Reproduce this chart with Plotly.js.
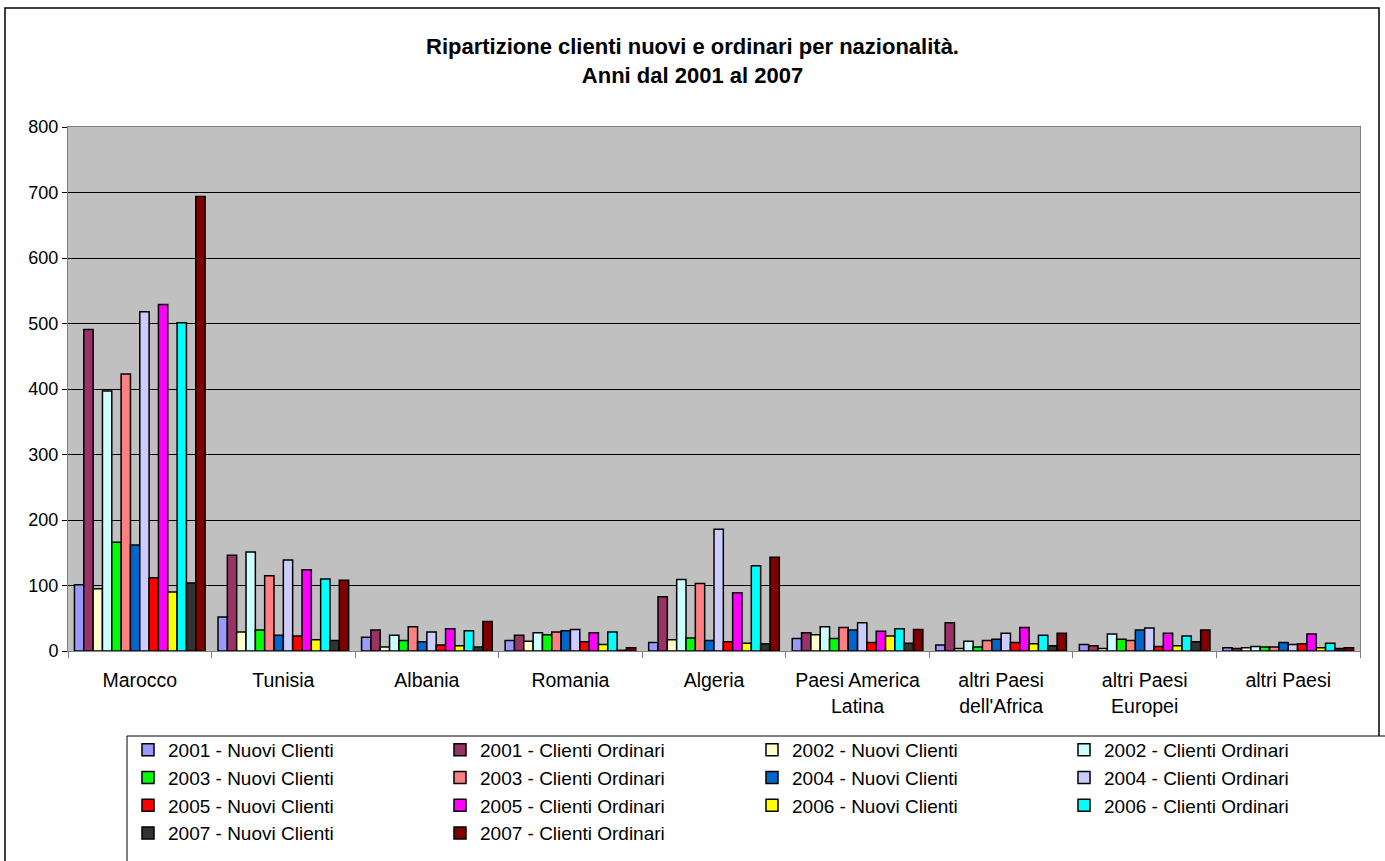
<!DOCTYPE html>
<html>
<head>
<meta charset="utf-8">
<script src="https://cdn.plot.ly/plotly-3.0.1.min.js"></script>
<style>html,body{margin:0;padding:0;background:#fff;}#chart{width:1385px;height:861px;}</style>
</head>
<body>
<div id="chart"></div>
<script>
var categories = ['Marocco','Tunisia','Albania','Romania','Algeria','Paesi America<br>Latina',"altri Paesi<br>dell'Africa",'altri Paesi<br>Europei','altri Paesi'];
var yTickVals = [0,100,200,300,400,500,600,700,800];

var seriesNames = [
  '2001 - Nuovi Clienti','2001 - Clienti Ordinari',
  '2002 - Nuovi Clienti','2002 - Clienti Ordinari',
  '2003 - Nuovi Clienti','2003 - Clienti Ordinari',
  '2004 - Nuovi Clienti','2004 - Clienti Ordinari',
  '2005 - Nuovi Clienti','2005 - Clienti Ordinari',
  '2006 - Nuovi Clienti','2006 - Clienti Ordinari',
  '2007 - Nuovi Clienti','2007 - Clienti Ordinari'
];
var seriesColors = ['#9999FF','#993366','#FFFFCC','#CCFFFF','#00FF00','#FF8080','#0066CC','#CCCCFF','#FF0000','#FF00FF','#FFFF00','#00FFFF','#333333','#800000'];

var v2001N = [101, 52, 21, 16, 13, 19, 9, 10, 5];
var v2001O = [491, 146, 32, 24, 83, 28, 43, 8, 4];
var v2002N = [95, 29, 6, 15, 17, 25, 4, 4, 5];
var v2002O = [397, 151, 24, 28, 109, 37, 15, 26, 7];
var v2003N = [166, 32, 16, 25, 20, 19, 6, 18, 6];
var v2003O = [423, 115, 37, 29, 103, 36, 16, 16, 6];
var v2004N = [162, 24, 14, 31, 16, 32, 18, 32, 13];
var v2004O = [518, 139, 29, 33, 186, 43, 27, 35, 10];
var v2005N = [112, 23, 9, 14, 14, 13, 13, 7, 11];
var v2005O = [529, 124, 34, 28, 89, 30, 36, 27, 26];
var v2006N = [90, 17, 8, 10, 12, 23, 11, 8, 5];
var v2006O = [501, 110, 31, 29, 130, 34, 24, 23, 12];
var v2007N = [104, 16, 6, 1, 11, 12, 8, 14, 4];
var v2007O = [694, 108, 45, 5, 143, 33, 27, 32, 5];

var seriesValues = [v2001N,v2001O,v2002N,v2002O,v2003N,v2003O,v2004N,v2004O,v2005N,v2005O,v2006N,v2006O,v2007N,v2007O];

var FONT = 'Liberation Sans, Arial, sans-serif';

var traces = seriesNames.map(function(name, i){
  return {
    type: 'bar',
    name: name,
    x: categories,
    y: seriesValues[i],
    marker: {color: seriesColors[i], line: {color: '#000000', width: 1.5}},
    hoverinfo: 'x+y+name'
  };
});

// pixel helpers for paper coordinates (plot area 68..1360 x, 127..651 y)
function px(x){ return (x - 68) / 1292; }
function py(y){ return (651 - y) / 524; }

var layout = {
  width: 1385, height: 861,
  margin: {l: 68, r: 25, t: 127, b: 210, autoexpand: false},
  paper_bgcolor: '#FFFFFF',
  plot_bgcolor: '#C0C0C0',
  font: {family: FONT, size: 18, color: '#000'},
  title: {
    text: '<b>Ripartizione clienti nuovi e ordinari per nazionalità.<br>Anni dal 2001 al 2007</b>',
    font: {family: FONT, size: 22, color: '#000'},
    x: 0.5, xanchor: 'center',
    yref: 'container', y: 1 - 54/861, yanchor: 'top',
    automargin: false
  },
  barmode: 'group',
  bargap: 0.09,
  bargroupgap: 0,
  xaxis: {
    type: 'category',
    showgrid: false,
    ticks: 'outside', tickson: 'boundaries', ticklen: 6, tickcolor: '#808080',
    ticklabelstandoff: 12,
    showline: true, linecolor: '#808080', linewidth: 1, mirror: true,
    tickfont: {family: FONT, size: 19.5, color: '#000'},
    zeroline: false,
    automargin: false
  },
  yaxis: {
    range: [0, 800],
    tickvals: yTickVals,
    ticks: 'outside', ticklen: 5, tickcolor: '#000',
    showgrid: true, gridcolor: '#000000', gridwidth: 1,
    showline: true, linecolor: '#808080', linewidth: 1, mirror: true,
    zeroline: false,
    tickfont: {family: FONT, size: 18, color: '#000'},
    automargin: false
  },
  showlegend: true,
  legend: {
    orientation: 'h',
    x: px(128), xanchor: 'left',
    y: py(731), yanchor: 'top',
    entrywidth: 267, entrywidthmode: 'pixels',
    bgcolor: 'rgba(0,0,0,0)', borderwidth: 0,
    font: {family: FONT, size: 19, color: '#000'},
    tracegroupgap: 0,
    traceorder: 'normal',
    itemclick: false, itemdoubleclick: false
  },
  shapes: [
    {type: 'rect', xref: 'paper', yref: 'paper', x0: px(5), x1: px(1379), y0: py(900), y1: py(8), line: {color: '#000', width: 1.5}, fillcolor: 'rgba(0,0,0,0)', layer: 'below'},
    {type: 'rect', xref: 'paper', yref: 'paper', x0: px(127), x1: px(1400), y0: py(900), y1: py(736), line: {color: '#000', width: 1}, fillcolor: '#FFFFFF', layer: 'below'}
  ]
};

Plotly.newPlot('chart', traces, layout, {displayModeBar: false, staticPlot: false});
</script>
</body>
</html>
